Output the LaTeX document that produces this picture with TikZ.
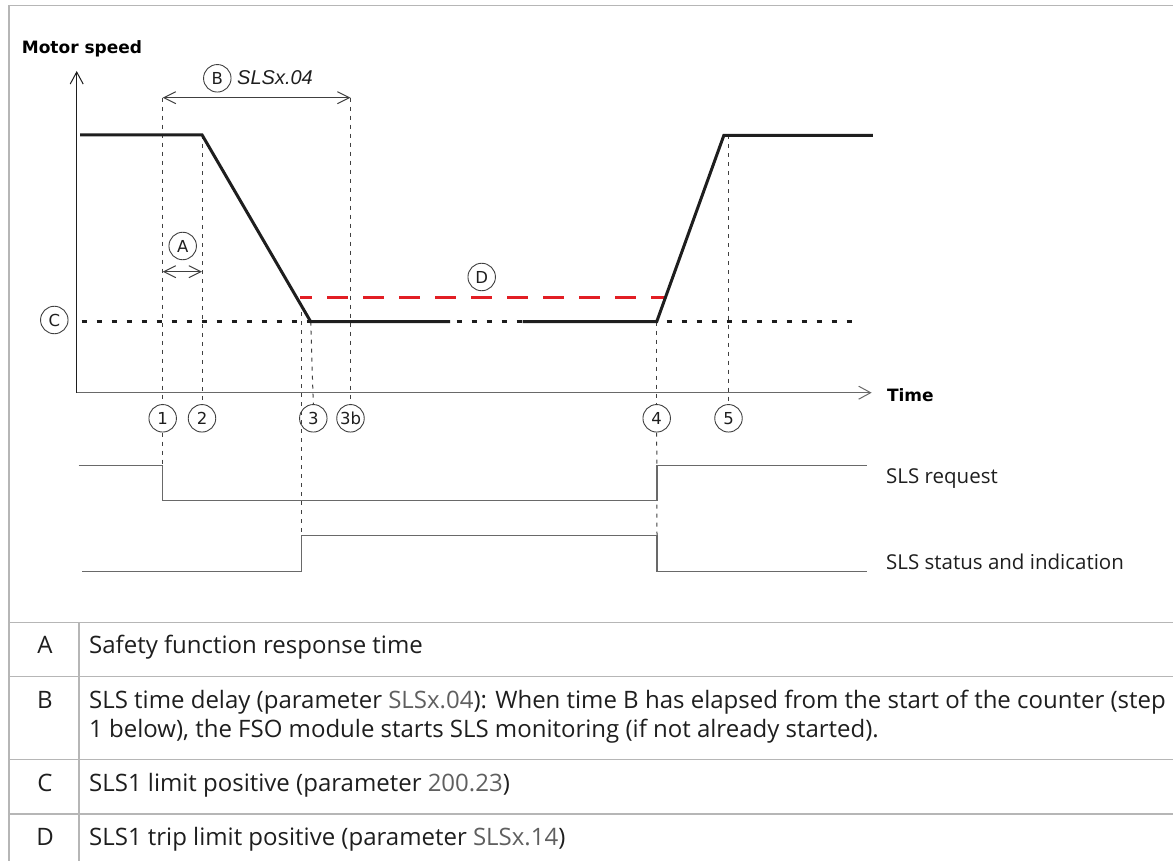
\documentclass[tikz,border=0pt]{standalone}
\usepackage{fontspec}
\setmainfont{Open Sans}
\newfontfamily\labelfont{DejaVu Sans}
\newfontfamily\parfont{Liberation Sans}
\usetikzlibrary{arrows.meta}
\definecolor{framegray}{RGB}{182,182,182}
\definecolor{ink}{RGB}{30,30,30}
\definecolor{axisgray}{RGB}{105,105,105}
\definecolor{trip}{RGB}{226,30,36}
\definecolor{paramgray}{RGB}{95,95,95}
\newcommand\parval[1]{\textcolor{paramgray}{#1}}

\begin{document}
\begin{tikzpicture}[x=1pt,y=-1pt,
  frame/.style={draw=framegray,line width=1.4pt},
  yaxis/.style={draw=ink,line width=1.1pt},
  xaxis/.style={draw=axisgray,line width=1.4pt},
  barb/.style={-{Straight Barb[length=12pt,width=13pt,line width=1pt]}},
  twobarb/.style={{Straight Barb[length=12pt,width=12pt,line width=1pt]}-{Straight Barb[length=12pt,width=12pt,line width=1pt]}},
  guide/.style={draw=ink!85,line width=1pt,dash pattern=on 4pt off 5pt},
  speed/.style={draw=ink,line width=3pt,line join=miter},
  limit/.style={draw=ink,line width=3pt,dash pattern=on 5pt off 10pt},
  tripline/.style={draw=trip,line width=3pt,dash pattern=on 21pt off 15pt,dash phase=9pt},
  signal/.style={draw=axisgray,line width=1.3pt},
  marker/.style={circle,draw=ink!85,line width=0.9pt,minimum size=27.5pt,inner sep=0pt,
    font=\labelfont\fontsize{16.5}{16.5}\selectfont,text=ink},
  axislabel/.style={anchor=base west,inner sep=0pt,font=\labelfont\bfseries\fontsize{17}{17}\selectfont,text=black},
  siglabel/.style={anchor=base west,inner sep=0pt,font=\fontsize{20.5}{24}\selectfont,text=ink},
  tabkey/.style={anchor=base,inner sep=0pt,font=\fontsize{24}{29}\selectfont,text=ink},
  tabtext/.style={anchor=base west,inner sep=0pt,font=\fontsize{24}{29}\selectfont,text=ink}
]
\useasboundingbox (0,0) rectangle (1173,861);

% outer frame and legend table
\draw[frame] (9,861) -- (9,5.5) -- (1173,5.5);
\foreach \yy in {622.7,676.7,759.5,814} \draw[frame] (9,\yy) -- (1173,\yy);
\draw[frame] (79,622.7) -- (79,861);

% axes
\coordinate (O) at (76.7,392.7);
\coordinate (ytip) at (76.7,71);
\coordinate (xtip) at (871.7,392.7);
\draw[yaxis,barb] (O) -- (ytip);
\draw[xaxis,barb] (O) -- (xtip);
\node[axislabel] (mspeed) at (21.7,53.3) {Motor speed};
\node[axislabel] (time) at (886.8,401.7) {Time};

% time markers
\node[marker] (m1) at (162.7,418.3) {1};
\node[marker] (m2) at (202,418.3) {2};
\node[marker] (m3) at (313.3,418.3) {3};
\node[marker] (m3b) at (350.5,418.3) {3b};
\node[marker] (m4) at (656.7,418.3) {4};
\node[marker] (m5) at (728.5,418.3) {5};

% speed profile points
\coordinate (s0) at (80,134.8);
\coordinate (s1) at (202,134.8);
\coordinate (s2) at (310.7,321.7);
\coordinate (s3) at (450,321.7);
\coordinate (s4) at (522.7,321.7);
\coordinate (s5) at (656.7,321.7);
\coordinate (s6) at (723.8,135.5);
\coordinate (s7) at (872.9,135.5);

% limit C and trip limit D
\coordinate (c0) at (81.7,321.7);
\coordinate (c1) at (860,321.7);
\coordinate (t0) at (300,297.8);
\coordinate (t1) at (665,297.8);
\draw[limit] (c0) -- (c1);
\draw[tripline] (t0) -- (t1);
\node[marker] (mC) at (54.3,320) {C};
\node[marker] (mD) at (481.7,277) {D};

% time delay B and response time A
\coordinate (bl) at (162.7,97.7);
\coordinate (br) at (350.5,97.7);
\draw[draw=ink!85,line width=1pt,twobarb] (bl) -- (br);
\node[marker] (mB) at (217.3,78.3) {B};
\node[anchor=base west,inner sep=0pt,font=\parfont\itshape\fontsize{20}{20}\selectfont,text=ink] (bpar) at (237,85) {SLSx.04};
\coordinate (al) at (162.7,271.7);
\coordinate (ar) at (202,271.7);
\draw[draw=ink!85,line width=1pt,twobarb] (al) -- (ar);
\node[marker] (mA) at (182.7,246) {A};

% signal corners
\coordinate (r0) at (78.5,465.7);
\coordinate (r1) at (162.7,465.7);
\coordinate (r2) at (162.7,500.7);
\coordinate (r3) at (657,500.7);
\coordinate (r4) at (657,465.7);
\coordinate (r5) at (866.7,465.7);
\coordinate (q0) at (82.3,571.7);
\coordinate (q1) at (301.5,571.7);
\coordinate (q2) at (301.5,535.7);
\coordinate (q3) at (657,535.7);
\coordinate (q4) at (657,571.7);
\coordinate (q5) at (866.7,571.7);
\coordinate (g3top) at (301.5,303);

% guide lines
\draw[guide] (bl) -- (m1.north);
\draw[guide] (m1.south) -- (r1);
\draw[guide] (s1) -- (m2.north);
\draw[guide] (g3top) -- (q2);
\draw[guide] (s2) -- (m3.north);
\draw[guide] (br) -- (m3b.north);
\draw[guide] (s5) -- (m4.north);
\draw[guide] (m4.south) -- (q3);
\draw[guide] (m5 |- s6) -- (m5.north);

% motor speed
\draw[speed] (s0) -- (s1) -- (s2) -- (s3);
\draw[speed] (s4) -- (s5) -- (s6) -- (s7);

% request and status signals
\draw[signal] (r0) -- (r1) -- (r2) -- (r3) -- (r4) -- (r5);
\draw[signal] (q0) -- (q1) -- (q2) -- (q3) -- (q4) -- (q5);
\node[siglabel] (lreq) at (886,483.3) {SLS request};
\node[siglabel] (lstat) at (886,569) {SLS status and indication};

% legend entries
\node[tabkey] (ka) at (45,653.3) {A};
\node[tabtext] (ta) at (89,653.3) {Safety function response time};
\node[tabkey] (kb) at (45,708.3) {B};
\node[tabtext] (tb1) at (89,708.3) {SLS time delay (parameter \parval{SLSx.04}): When time B has elapsed from the start of the counter (step};
\node[tabtext] (tb2) at (89,737) {1 below), the FSO module starts SLS monitoring (if not already started).};
\node[tabkey] (kc) at (45,791.7) {C};
\node[tabtext] (tc) at (89,791.7) {SLS1 limit positive (parameter \parval{200.23})};
\node[tabkey] (kd) at (45,845) {D};
\node[tabtext] (td) at (89,845) {SLS1 trip limit positive (parameter \parval{SLSx.14})};
\end{tikzpicture}
\end{document}
